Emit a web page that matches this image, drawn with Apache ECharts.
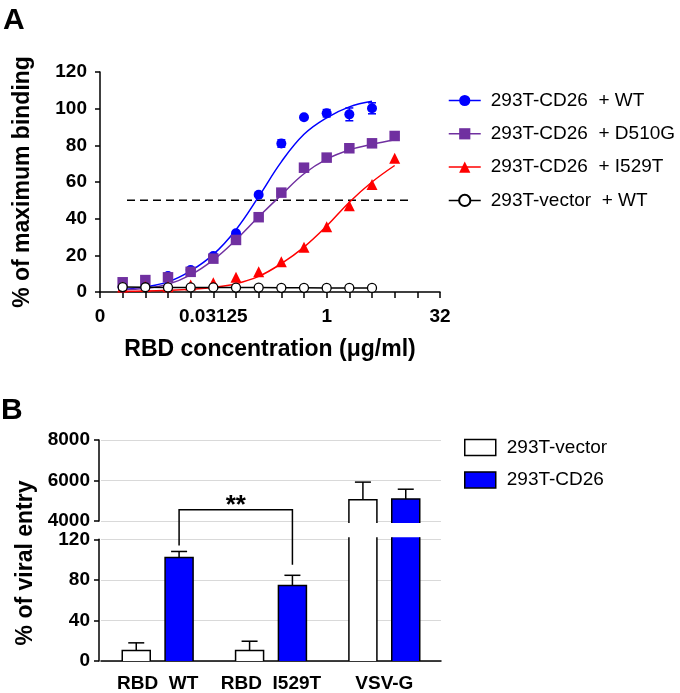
<!DOCTYPE html>
<html><head><meta charset="utf-8">
<script src="https://cdn.jsdelivr.net/npm/echarts@6/dist/echarts.min.js"></script>
<style>html,body{margin:0;padding:0;background:#fff}#c{width:680px;height:693px}</style>
</head><body><div id="c"></div>
<script>
// ---------------- Panel A data ----------------
const concA = [0.001953125, 0.00390625, 0.0078125, 0.015625, 0.03125, 0.0625, 0.125, 0.25, 0.5, 1, 2, 4, 8];
const wtPts    = [2.5, 3, 8.7, 12, 19.6, 32, 53, 81, 95.3, 97.5, 96.9, 100.2];
const wtErr    = [0, 0, 0, 0, 0, 0, 0, 2, 0, 2, 3.5, 3];
const d510gPts = [5.3, 6.5, 8, 11, 18.2, 28.4, 40.8, 54.2, 67.8, 73.3, 78.4, 81.1, 85.1];
const i529tPts = [2.7, 3, 2.9, 3.8, 5, 8, 11, 16.5, 24.4, 35.6, 47.1, 58.7, 72.9];
const vectorPts = [2.7, 2.6, 2.5, 2.5, 2.5, 2.4, 2.4, 2.3, 2.3, 2.2, 2.2, 2.2];
const wtFit    = [1.5, 2.8, 5.5, 11.5, 20.5, 34, 52, 71, 86, 95, 101, 104];
const d510gFit = [1.2, 2, 4.2, 9.3, 17.5, 28.5, 41, 53, 64.5, 72.5, 77.5, 80.5, 83];
const i529tFit = [0.3, 0.5, 0.9, 1.5, 2.5, 4.5, 8.5, 15.5, 24.5, 36, 49, 60, 69];
const halfMax = 50;
const halfLineRange = [0.00223, 13.8];
const namesA = ['293T-CD26  + WT', '293T-CD26  + D510G', '293T-CD26  + I529T', '293T-vector  + WT'];
const xMinA = 0.0009765625, xMaxA = 32;           // axis range (log2 scale)
const xLabelConc = [0.0009765625, 0.03125, 1, 32];
const xLabelText = ['0', '0.03125', '1', '32'];

// ---------------- Panel B data ----------------
const catB = ['RBD  WT', 'RBD  I529T', 'VSV-G'];
const namesB = ['293T-vector', '293T-CD26'];
const vecMean = [10.3, 10.3, 5050];
const vecSem  = [7.6, 9.2, 870];
const cd26Mean = [102, 74.4, 5090];
const cd26Sem  = [6, 10.1, 480];
const lowRange = [0, 120], highRange = [4000, 8000];
const sigPair = [0, 1], sigTop = 4550, sigEnds = [114, 95], sigText = '**';

const FONT = "'Liberation Sans', Arial, sans-serif";
const BLUE = '#0000ff', PURPLE = '#7030a0', RED = '#ff0000';
const BAR_W = 28, BAR_GAP = 0.53;
const barOff = (BAR_W + BAR_W * BAR_GAP) / 2;

const chart = echarts.init(document.getElementById('c'), null, {renderer: 'canvas'});

const lg = Math.log2;
const xExpLabels = xLabelConc.map(c => Math.round(lg(c)));
function pairs(xs, ys) { return ys.map((v, i) => [lg(xs[i]), v]); }

function errA(params, api) {
  const x = api.value(0);
  const p1 = api.coord([x, api.value(1)]), p2 = api.coord([x, api.value(2)]);
  const cw = 4, st = {stroke: BLUE, lineWidth: 1.5};
  return {type: 'group', children: [
    {type: 'line', shape: {x1: p1[0], y1: p1[1], x2: p2[0], y2: p2[1]}, style: st},
    {type: 'line', shape: {x1: p1[0] - cw, y1: p1[1], x2: p1[0] + cw, y2: p1[1]}, style: st},
    {type: 'line', shape: {x1: p2[0] - cw, y1: p2[1], x2: p2[0] + cw, y2: p2[1]}, style: st}
  ]};
}
function errB(offset) {
  return function (params, api) {
    const c = api.value(0);
    const p1 = api.coord([c, api.value(1)]), p2 = api.coord([c, api.value(2)]);
    const x = p1[0] + offset, cw = 8, st = {stroke: '#000', lineWidth: 1.5};
    return {type: 'group', children: [
      {type: 'line', shape: {x1: x, y1: p1[1], x2: x, y2: p2[1]}, style: st},
      {type: 'line', shape: {x1: x - cw, y1: p2[1], x2: x + cw, y2: p2[1]}, style: st}
    ]};
  };
}
// bars with open ends where the broken axis cuts them
function barB(offset, fill, section) {
  return function (params, api) {
    const c = api.value(0), v = api.value(1);
    const cs = params.coordSys;
    const gTop = cs.y, gBot = cs.y + cs.height;
    const cx = api.coord([c, section === 'high' ? highRange[0] : 0])[0] + offset;
    const rawTop = api.coord([c, v])[1];
    const cut = rawTop < gTop - 2;
    const yTop = cut ? gTop - 2 : rawTop;
    const yBot = section === 'high' ? gBot + 2 : api.coord([c, 0])[1];
    const x0 = cx - BAR_W / 2, x1 = cx + BAR_W / 2;
    const st = {stroke: '#000', lineWidth: 1.5, fill: null};
    const kids = [{type: 'rect', shape: {x: x0, y: yTop, width: BAR_W, height: yBot - yTop}, style: {fill: fill}}];
    if (cut) {
      kids.push({type: 'line', shape: {x1: x0, y1: yBot, x2: x0, y2: yTop}, style: st});
      kids.push({type: 'line', shape: {x1: x1, y1: yBot, x2: x1, y2: yTop}, style: st});
    } else {
      kids.push({type: 'polyline', shape: {points: [[x0, yBot], [x0, yTop], [x1, yTop], [x1, yBot]]}, style: st});
    }
    return {type: 'group', children: kids};
  };
}
const inHigh = v => v >= highRange[0];
const errData = (mean, sem, keep) => mean.map((m, i) => keep(m) ? [i, m, m + sem[i]] : null).filter(Boolean);
const barData = (mean, keep) => mean.map((m, i) => keep(m) ? [i, m] : null).filter(Boolean);

const axisLine = {show: true, onZero: false, lineStyle: {color: '#000', width: 1.5}};
const tickOut = {show: true, inside: false, length: 5, lineStyle: {color: '#000', width: 1.5}};
const lblBold = (size, margin) => ({color: '#000', fontFamily: FONT, fontWeight: 'bold', fontSize: size, margin: margin});

const ptSeries = (name, ys, symbol, size, color, extra) => Object.assign({
  type: 'line', name: name, xAxisIndex: 0, yAxisIndex: 0,
  data: pairs(concA, ys), symbol: symbol, symbolSize: size, showSymbol: true, showAllSymbol: true,
  lineStyle: {width: 0, color: color}, itemStyle: {color: color}, z: 5, animation: false
}, extra || {});
const fitSeries = (ys, color) => ({
  type: 'line', xAxisIndex: 0, yAxisIndex: 0, data: pairs(concA, ys), showSymbol: false, symbol: 'none',
  smooth: 0.4, lineStyle: {width: 1.5, color: color}, z: 3, animation: false, silent: true
});
const customB = (name, xi, render, data, color, z) => ({
  type: 'custom', name: name, xAxisIndex: xi, yAxisIndex: xi, renderItem: render, data: data,
  encode: {x: 0, y: 1}, itemStyle: {color: color}, z: z || 2
});

const option = {
  backgroundColor: '#fff',
  animation: false,
  textStyle: {fontFamily: FONT},
  grid: [
    {left: 100, top: 72, width: 340, height: 220},
    {left: 101, top: 440, width: 340, height: 81},
    {left: 101, top: 539.3, width: 340, height: 123}
  ],
  xAxis: [
    {type: 'value', gridIndex: 0, min: lg(xMinA), max: lg(xMaxA), interval: 1,
     axisLine: axisLine, axisTick: Object.assign({}, tickOut, {length: 6}), splitLine: {show: false},
     axisLabel: Object.assign(lblBold(19, 15), {
       formatter: v => { const k = xExpLabels.indexOf(Math.round(v)); return k >= 0 ? xLabelText[k] : ''; }
     }),
     name: 'RBD concentration (μg/ml)', nameLocation: 'middle', nameGap: 46,
     nameTextStyle: {color: '#000', fontFamily: FONT, fontWeight: 'bold', fontSize: 23}},
    {type: 'category', gridIndex: 1, data: catB, show: false},
    {type: 'category', gridIndex: 2, data: catB, axisLine: axisLine, axisTick: {show: false},
     axisLabel: Object.assign(lblBold(19, 13), {interval: 0})}
  ],
  yAxis: [
    {type: 'value', gridIndex: 0, min: 0, max: 120, interval: 20, axisLine: axisLine, axisTick: tickOut,
     splitLine: {show: false}, axisLabel: lblBold(19, 13),
     name: '% of maximum binding', nameLocation: 'middle', nameGap: 66,
     nameTextStyle: {color: '#000', fontFamily: FONT, fontWeight: 'bold', fontSize: 23}},
    {type: 'value', gridIndex: 1, min: highRange[0], max: highRange[1], interval: 2000, offset: 2,
     axisLine: axisLine, axisTick: tickOut, axisLabel: Object.assign(lblBold(19, 9), {formatter: v => String(v)}),
     splitLine: {show: true, lineStyle: {color: '#d9d9d9', width: 1.2}}},
    {type: 'value', gridIndex: 2, min: lowRange[0], max: lowRange[1], interval: 40, offset: 2,
     axisLine: axisLine, axisTick: tickOut, axisLabel: lblBold(19, 9),
     splitLine: {show: true, lineStyle: {color: '#d9d9d9', width: 1.2}}}
  ],
  legend: [
    {data: namesA, orient: 'vertical', left: 443, top: 86, itemWidth: 32, itemHeight: 14, itemGap: 14.3,
     lineStyle: {width: 1.5, opacity: 1}, selectedMode: false,
     textStyle: {color: '#000', fontFamily: FONT, fontSize: 19, padding: [0, 0, 0, 5]}},
    {data: namesB, orient: 'vertical', left: 459, top: 433, itemWidth: 31, itemHeight: 16, itemGap: 13.4,
     icon: 'rect', selectedMode: false, itemStyle: {borderColor: '#000', borderWidth: 1.5},
     textStyle: {color: '#000', fontFamily: FONT, fontSize: 19, padding: [0, 0, 0, 6]}}
  ],
  series: [
    fitSeries(wtFit, BLUE),
    fitSeries(d510gFit, PURPLE),
    fitSeries(i529tFit, RED),
    {type: 'line', xAxisIndex: 0, yAxisIndex: 0, data: [[lg(halfLineRange[0]), halfMax], [lg(halfLineRange[1]), halfMax]],
     symbol: 'none', lineStyle: {color: '#000', width: 1.5, type: [8, 5]}, z: 2, silent: true},
    {type: 'custom', xAxisIndex: 0, yAxisIndex: 0, renderItem: errA, z: 4, encode: {x: 0, y: [1, 2]},
     data: concA.map((c, i) => wtErr[i] ? [lg(c), wtPts[i] - wtErr[i], wtPts[i] + wtErr[i]] : null).filter(Boolean)},
    ptSeries(namesA[0], wtPts, 'circle', 10, BLUE),
    ptSeries(namesA[1], d510gPts, 'rect', 10.5, PURPLE),
    ptSeries(namesA[2], i529tPts, 'triangle', 11, RED),
    ptSeries(namesA[3], vectorPts, 'circle', 9, '#000', {
      lineStyle: {width: 1.5, color: '#000'}, itemStyle: {color: '#fff', borderColor: '#000', borderWidth: 1.3}, z: 6}),
    // Panel B upper section (axis 1) and lower section (axis 2)
    customB(namesB[0], 1, barB(-barOff, '#fff', 'high'), barData(vecMean, inHigh), '#fff'),
    customB(namesB[1], 1, barB(barOff, BLUE, 'high'), barData(cd26Mean, inHigh), BLUE),
    customB(null, 1, errB(-barOff), errData(vecMean, vecSem, inHigh), '#000', 3),
    customB(null, 1, errB(barOff), errData(cd26Mean, cd26Sem, inHigh), '#000', 3),
    customB(namesB[0], 2, barB(-barOff, '#fff', 'low'), barData(vecMean, () => true), '#fff'),
    customB(namesB[1], 2, barB(barOff, BLUE, 'low'), barData(cd26Mean, () => true), BLUE),
    customB(null, 2, errB(-barOff), errData(vecMean, vecSem, m => !inHigh(m)), '#000', 3),
    customB(null, 2, errB(barOff), errData(cd26Mean, cd26Sem, m => !inHigh(m)), '#000', 3)
  ]
};
chart.setOption(option);

// annotations: panel letters, B y-axis title, significance bracket
const pTop = chart.convertToPixel({gridIndex: 1}, [sigPair[0], sigTop]);
const pL = chart.convertToPixel({gridIndex: 2}, [sigPair[0], sigEnds[0]]);
const pR = chart.convertToPixel({gridIndex: 2}, [sigPair[1], sigEnds[1]]);
const xL = pL[0] + barOff, xR = pR[0] + barOff, yT = pTop[1];
chart.setOption({graphic: [
  {type: 'text', left: 3, top: 6, style: {text: 'A', fontFamily: FONT, fontWeight: 'bold', fontSize: 30, fill: '#000'}},
  {type: 'text', left: 1, top: 396, style: {text: 'B', fontFamily: FONT, fontWeight: 'bold', fontSize: 30, fill: '#000'}},
  {type: 'text', x: 26, y: 563, rotation: Math.PI / 2,
   style: {text: '% of viral entry', fontFamily: FONT, fontWeight: 'bold', fontSize: 23, fill: '#000', align: 'center', verticalAlign: 'middle'}},
  {type: 'polyline', shape: {points: [[xL, pL[1]], [xL, yT], [xR, yT], [xR, pR[1]]]}, style: {stroke: '#000', lineWidth: 1.5, fill: null}},
  {type: 'text', x: (xL + xR) / 2, y: yT - 4,
   style: {text: sigText, fontFamily: FONT, fontWeight: 'bold', fontSize: 26, fill: '#000', align: 'center', verticalAlign: 'middle'}}
]});
</script></body></html>
